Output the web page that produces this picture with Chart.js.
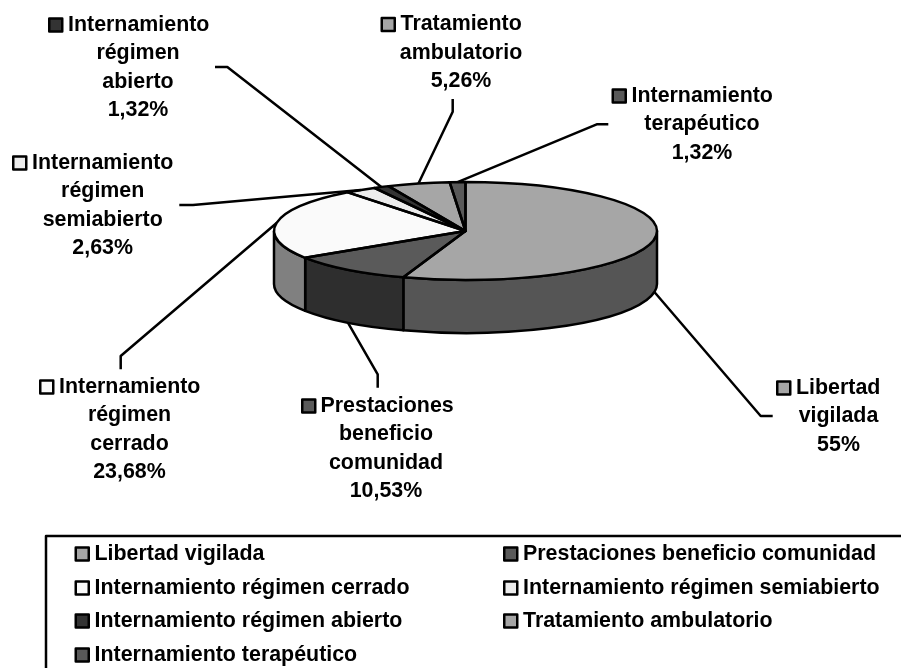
<!DOCTYPE html>
<html>
<head>
<meta charset="utf-8">
<script src="https://cdn.jsdelivr.net/npm/chart.js@4"></script>
<style>
  html, body { margin: 0; padding: 0; background: #fff; }
  canvas { display: block; }
</style>
</head>
<body>
<canvas id="myChart" width="901" height="668"></canvas>
<script>
var categories = ['Libertad vigilada', 'Prestaciones beneficio comunidad', 'Internamiento régimen cerrado',
  'Internamiento régimen semiabierto', 'Internamiento régimen abierto', 'Tratamiento ambulatorio', 'Internamiento terapéutico'];
var values = [55.26, 10.53, 23.68, 2.63, 1.32, 5.26, 1.32];
var valueLabels = ['55%', '10,53%', '23,68%', '2,63%', '1,32%', '5,26%', '1,32%'];
var labelLines = [
  ['Libertad', 'vigilada'],
  ['Prestaciones', 'beneficio', 'comunidad'],
  ['Internamiento', 'régimen', 'cerrado'],
  ['Internamiento', 'régimen', 'semiabierto'],
  ['Internamiento', 'régimen', 'abierto'],
  ['Tratamiento', 'ambulatorio'],
  ['Internamiento', 'terapéutico']
];
var topColors = ['#a6a6a6', '#5a5a5a', '#fafafa', '#ececec', '#333333', '#a6a6a6', '#595959'];
var sideColors = ['#555555', '#2e2e2e', '#808080', '#808080', '#222222', '#555555', '#333333'];

// where the text of each data label sits: swatch left, first text left, centre of the
// other lines, y of first line
var labelPos = [
  [776, 796, 838.5, 388],
  [301, 320.5, 386, 406],
  [39, 59, 129.5, 387],
  [12, 32, 102.7, 163],
  [48, 68, 138, 25],
  [380.5, 400.5, 461, 24.5],
  [611.5, 631.5, 702, 96]
];
// leader lines: from the slice (mid angle) to these two points
var leaderPoints = [
  [[760.7, 416], [772.7, 416]],
  [[377.7, 374.3], [377.7, 387.7]],
  [[120.7, 356], [120.7, 369.3]],
  [[193, 205], [179.3, 205]],
  [[227.3, 67], [215, 67]],
  [[452.7, 111.7], [452.7, 99]],
  [[596.7, 124.3], [608.3, 124.3]]
];
var legendCols = [74.5, 503];
var legendRows = [554, 588, 621, 655];

var CX = 465.5, CY = 231, RX = 191.5, RY = 49, DEPTH = 53;
var FONT = 'bold 21.4px "Liberation Sans"';

function text(ctx, s, x, y, align) {
  ctx.font = FONT;
  ctx.fillStyle = '#000';
  ctx.textBaseline = 'middle';
  ctx.textAlign = align;
  ctx.fillText(s, x, y);
}

function swatch(ctx, x, yMid, color) {
  ctx.fillStyle = color;
  ctx.strokeStyle = '#000';
  ctx.lineWidth = 2.5;
  ctx.fillRect(x + 1.25, yMid - 6.5, 13, 13);
  ctx.strokeRect(x + 1.25, yMid - 6.5, 13, 13);
}

var pie3d = {
  id: 'pie3d',
  beforeDatasetsDraw: function(chart) {
    var ctx = chart.ctx;
    var arcs = chart.getDatasetMeta(0).data;
    ctx.save();
    ctx.lineWidth = 2.5;
    ctx.strokeStyle = '#000';
    ctx.lineJoin = 'round';
    arcs.forEach(function(arc, i) {
      // only the front half of the rim can be seen
      var a0 = Math.max(arc.startAngle, 0);
      var a1 = Math.min(arc.endAngle, Math.PI);
      if (a1 <= a0) return;
      ctx.beginPath();
      ctx.ellipse(arc.x, arc.y, RX, RY, 0, a0, a1);
      ctx.ellipse(arc.x, arc.y + DEPTH, RX, RY, 0, a1, a0, true);
      ctx.closePath();
      ctx.fillStyle = sideColors[i];
      ctx.fill();
      ctx.stroke();
    });
    ctx.restore();
    // squash the library's round pie to the flat ellipse
    ctx.save();
    ctx.translate(CX, CY);
    ctx.scale(1, RY / RX);
    ctx.translate(-CX, -CY);
  },
  afterDatasetsDraw: function(chart) {
    var ctx = chart.ctx;
    ctx.restore();
    var arcs = chart.getDatasetMeta(0).data;
    ctx.save();
    ctx.lineWidth = 2.5;
    ctx.strokeStyle = '#000';
    ctx.lineJoin = 'round';
    arcs.forEach(function(arc) {
      ctx.beginPath();
      ctx.moveTo(arc.x, arc.y);
      ctx.ellipse(arc.x, arc.y, RX, RY, 0, arc.startAngle, arc.endAngle);
      ctx.closePath();
      ctx.stroke();
    });
    // leader lines
    arcs.forEach(function(arc, i) {
      var mid = (arc.startAngle + arc.endAngle) / 2;
      var x = arc.x + RX * Math.cos(mid);
      var y = arc.y + RY * Math.sin(mid);
      if (i < 2) y += DEPTH;
      ctx.beginPath();
      ctx.moveTo(x, y);
      ctx.lineTo(leaderPoints[i][0][0], leaderPoints[i][0][1]);
      ctx.lineTo(leaderPoints[i][1][0], leaderPoints[i][1][1]);
      ctx.stroke();
    });
    // data labels
    labelLines.forEach(function(lines, i) {
      var p = labelPos[i];
      swatch(ctx, p[0], p[3], topColors[i]);
      text(ctx, lines[0], p[1], p[3], 'left');
      var y = p[3];
      for (var l = 1; l < lines.length; l++) {
        y += 28.4;
        text(ctx, lines[l], p[2], y, 'center');
      }
      text(ctx, valueLabels[i], p[2], y + 28.4, 'center');
    });
    // legend frame, open on the right and bottom edges
    ctx.lineWidth = 2.5;
    ctx.strokeStyle = '#000';
    ctx.beginPath();
    ctx.moveTo(46, 668);
    ctx.lineTo(46, 536);
    ctx.lineTo(901, 536);
    ctx.stroke();
    categories.forEach(function(c, i) {
      var x = legendCols[i % 2];
      var y = legendRows[Math.floor(i / 2)];
      swatch(ctx, x, y, topColors[i]);
      text(ctx, c, x + 20, y, 'left');
    });
    ctx.restore();
  }
};

new Chart(document.getElementById('myChart').getContext('2d'), {
  type: 'pie',
  data: {
    labels: categories,
    datasets: [{ data: values, backgroundColor: topColors, borderWidth: 0 }]
  },
  plugins: [pie3d],
  options: {
    responsive: false,
    animation: false,
    layout: { padding: { left: CX - RX, right: 901 - CX - RX, top: CY - RX, bottom: 668 - CY - RX } },
    plugins: { legend: { display: false }, tooltip: { enabled: false } }
  }
});
</script>
</body>
</html>
